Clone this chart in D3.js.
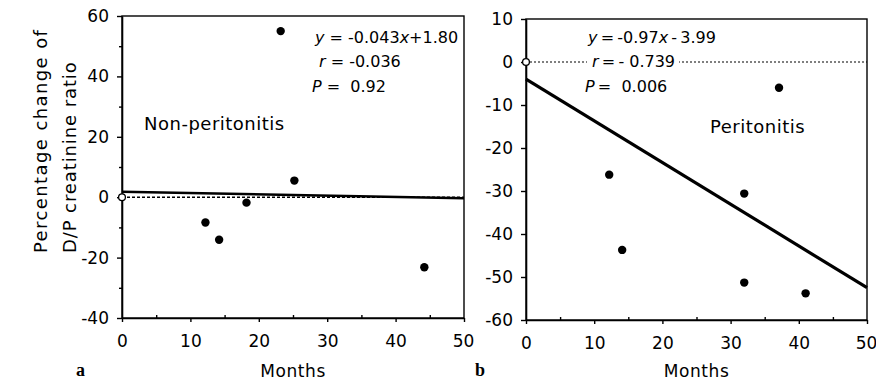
<!DOCTYPE html>
<html>
<head>
<meta charset="utf-8">
<script src="https://cdn.jsdelivr.net/npm/d3@7"></script>
<style>
  body { margin: 0; background: #fff; }
  svg { display: block; font-family: "DejaVu Sans", sans-serif; }
  text { white-space: pre; }
</style>
</head>
<body>
<svg id="chart" width="876" height="381"></svg>
<script>
// Data
const xTicks = [0, 10, 20, 30, 40, 50];
const xMinorTicks = [5, 15, 25, 35, 45];

const nonPeritonitisMonths = [12.2, 14.2, 18.2, 23.2, 25.2, 44.2];
const nonPeritonitisChange = [-8.4, -14.1, -1.8, 55, 5.5, -23.2];
const nonPeritonitisYTicks = [-40, -20, 0, 20, 40, 60];
const nonPeritonitisYMinor = [-30, -10, 10, 30, 50];

const peritonitisMonths = [12.2, 14.1, 32, 32, 37.1, 41];
const peritonitisChange = [-26.2, -43.7, -30.6, -51.3, -6, -53.8];
const peritonitisYTicks = [-60, -50, -40, -30, -20, -10, 0, 10];

// fitted regression lines printed on the panels
const fitSlopes = [-0.043, -0.97];
const fitIntercepts = [1.80, -3.99];

//Helpers
const translate = (x, y) => `translate(${x}, ${y})`;
const minusFmt = d => (d < 0 ? '-' + Math.abs(d) : String(d));

const svg = d3.select('#chart');

const styleAxis = sel => {
    sel.attr('font-family', null).attr('font-size', null);
    sel.selectAll('line').attr('stroke', '#000').attr('stroke-width', 1.4);
    sel.selectAll('path.domain').attr('stroke', '#000').attr('stroke-width', 1.6);
    sel.selectAll('text').attr('fill', '#000').attr('font-size', 17);
};

const panels = [
    {
        box: { left: 122, right: 464, top: 16, bottom: 318 },
        yDomain: [-40, 60],
        yTicks: nonPeritonitisYTicks,
        yMinor: nonPeritonitisYMinor,
        xs: nonPeritonitisMonths,
        ys: nonPeritonitisChange,
        fit: 0,
        dash: { dasharray: '3,2', width: 1.5 },
        fitWidth: 2.6,
        title: { text: 'Non-peritonitis', x: 144, y: 130 },
        letter: { text: 'a', x: 76, y: 376 },
        stats: [
            { x: 315, y: 43, parts: [['y', 1], [' = -0.043', 0], ['x', 1], ['+1.80', 0]] },
            { x: 319, y: 67, parts: [['r', 1], [' = -0.036', 0]] },
            { x: 312, y: 92, parts: [['P', 1], [' =  0.92', 0]] },
        ],
        maskR: false,
    },
    {
        box: { left: 526, right: 867, top: 19, bottom: 320 },
        yDomain: [-60, 10],
        yTicks: peritonitisYTicks,
        yMinor: [],
        xs: peritonitisMonths,
        ys: peritonitisChange,
        fit: 1,
        dash: { dasharray: '2,2', width: 1.1 },
        fitWidth: 3.2,
        title: { text: 'Peritonitis', x: 710, y: 133 },
        letter: { text: 'b', x: 475, y: 376 },
        stats: [
            { x: 588, y: 43, parts: [['y', 1], ['\u2009=\u2009-0.97', 0], ['x', 1], ['\u2009-\u20093.99', 0]] },
            { x: 592, y: 67, parts: [['r', 1], ['\u2009=\u2009- 0.739', 0]] },
            { x: 585, y: 92, parts: [['P', 1], ['\u2009=  0.006', 0]] },
        ],
        maskR: true,
    },
];

function drawPanel(p) {
    const { left, right, top, bottom } = p.box;
    const x = d3.scaleLinear().domain([0, 50]).range([left, right]);
    const y = d3.scaleLinear().domain(p.yDomain).range([bottom, top]);
    const g = svg.append('g');

    //Frame
    g.append('rect')
        .attr('x', left).attr('y', top)
        .attr('width', right - left).attr('height', bottom - top)
        .attr('fill', 'none').attr('stroke', '#000').attr('stroke-width', 1.4);

    //Axes
    const xAxisG = g.append('g')
        .attr('transform', translate(0, bottom))
        .call(d3.axisBottom(x).tickValues(xTicks).tickSize(4).tickPadding(13).tickSizeOuter(0))
        .call(styleAxis);
    // keep the last label inside the picture
    xAxisG.selectAll('.tick text').filter(d => d === 50).attr('dx', -1);
    g.append('g')
        .attr('transform', translate(0, bottom))
        .call(d3.axisBottom(x).tickValues(xMinorTicks).tickSize(-3).tickFormat(''))
        .call(styleAxis)
        .select('.domain').remove();
    g.append('g')
        .attr('transform', translate(left, 0))
        .call(d3.axisLeft(y).tickValues(p.yTicks).tickSize(5).tickPadding(8).tickSizeOuter(0).tickFormat(minusFmt))
        .call(styleAxis);
    if (p.yMinor.length) {
        g.append('g')
            .attr('transform', translate(left, 0))
            .call(d3.axisLeft(y).tickValues(p.yMinor).tickSize(3).tickFormat(''))
            .call(styleAxis)
            .select('.domain').remove();
    }

    //Zero reference line
    g.append('line')
        .attr('x1', x(0)).attr('x2', x(50))
        .attr('y1', y(0)).attr('y2', y(0))
        .attr('stroke', '#000')
        .attr('stroke-width', p.dash.width)
        .attr('stroke-dasharray', p.dash.dasharray);

    //Regression line
    const slope = fitSlopes[p.fit], intercept = fitIntercepts[p.fit];
    const fitLine = d3.line()
        .x(d => x(d))
        .y(d => y(slope * d + intercept));
    g.append('path')
        .attr('d', fitLine([0, 50]))
        .attr('fill', 'none')
        .attr('stroke', '#000')
        .attr('stroke-width', p.fitWidth);

    //Points
    g.selectAll('circle.pt')
        .data(d3.zip(p.xs, p.ys))
        .join('circle')
        .attr('class', 'pt')
        .attr('cx', d => x(d[0]))
        .attr('cy', d => y(d[1]))
        .attr('r', 4.2)
        .attr('fill', '#000');
    g.append('circle')
        .attr('cx', x(0)).attr('cy', y(0)).attr('r', 3.4)
        .attr('fill', '#fff').attr('stroke', '#000').attr('stroke-width', 1.3);

    //Stats text (white patch behind the r line where it crosses the dotted line)
    const maskLayer = g.append('g');
    p.stats.forEach((line, i) => {
        const t = g.append('text')
            .attr('x', line.x).attr('y', line.y)
            .attr('font-size', 16);
        line.parts.forEach(([str, it]) => {
            t.append('tspan').attr('font-style', it ? 'italic' : 'normal').text(str);
        });
        if (p.maskR && i === 1) {
            const bb = t.node().getBBox();
            maskLayer.append('rect')
                .attr('x', bb.x - 5).attr('y', bb.y)
                .attr('width', bb.width + 9).attr('height', bb.height)
                .attr('fill', '#fff');
        }
    });

    //Labels
    g.append('text')
        .attr('x', p.title.x).attr('y', p.title.y)
        .attr('font-size', 18).attr('letter-spacing', 0.5)
        .text(p.title.text);
    g.append('text')
        .attr('x', (left + right) / 2).attr('y', 377)
        .attr('text-anchor', 'middle')
        .attr('font-size', 17).attr('letter-spacing', 0.6)
        .text('Months');
    g.append('text')
        .attr('x', p.letter.x).attr('y', p.letter.y)
        .attr('font-family', '"Liberation Serif", serif')
        .attr('font-weight', 'bold')
        .attr('font-size', 18)
        .text(p.letter.text);
}

panels.forEach(drawPanel);

// Y axis title (two lines, rotated)
const yTitle = svg.append('text')
    .attr('transform', translate(0, 253) + ' rotate(-90)')
    .attr('font-size', 18).attr('letter-spacing', 1.4);
yTitle.append('tspan').attr('x', 0).attr('y', 47).text('Percentage change of');
yTitle.append('tspan').attr('x', 0).attr('y', 76).attr('letter-spacing', 0.9).text('D/P creatinine ratio');
</script>
</body>
</html>
